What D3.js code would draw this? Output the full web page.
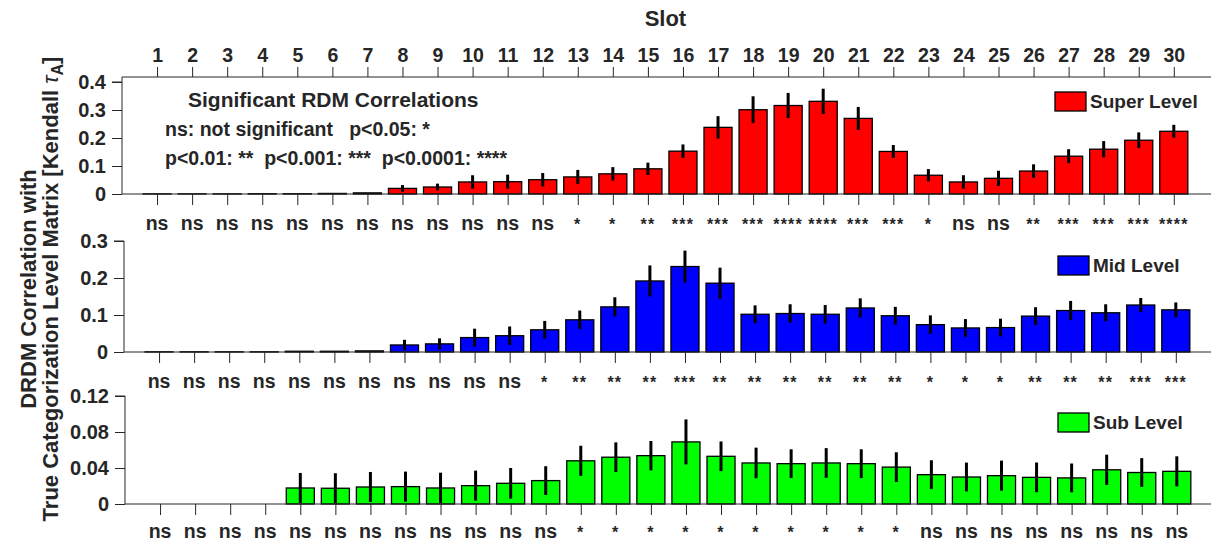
<!DOCTYPE html>
<html>
<head>
<meta charset="utf-8">
<script src="https://cdn.jsdelivr.net/npm/d3@7"></script>
<style>
  html, body { margin: 0; padding: 0; background: #fff; }
  svg { display: block; }
  text { font-family: "Liberation Sans", Arial, Helvetica, sans-serif; font-weight: bold; fill: #262626; white-space: pre; }
</style>
</head>
<body>
<svg id="chart" width="1211" height="548"></svg>
<script>
// ---------------- data ----------------
const slots = d3.range(1, 31);

const superVals = [0.0005, 0.0005, 0.0005, 0.001, 0.001, 0.002, 0.004, 0.020, 0.025, 0.043,
                   0.044, 0.051, 0.061, 0.072, 0.090, 0.153, 0.238, 0.301, 0.316, 0.331,
                   0.270, 0.152, 0.067, 0.043, 0.056, 0.082, 0.135, 0.160, 0.192, 0.224];
const superErr  = [0, 0, 0, 0, 0, 0, 0, 0.012, 0.012, 0.024,
                   0.025, 0.024, 0.025, 0.024, 0.022, 0.024, 0.040, 0.048, 0.045, 0.045,
                   0.041, 0.023, 0.022, 0.024, 0.027, 0.024, 0.025, 0.029, 0.028, 0.023];

const midVals = [0.0005, 0.0005, 0.0005, 0.0005, 0.002, 0.002, 0.003, 0.019, 0.022, 0.039,
                 0.044, 0.060, 0.087, 0.122, 0.192, 0.231, 0.186, 0.102, 0.104, 0.102,
                 0.119, 0.098, 0.074, 0.065, 0.066, 0.097, 0.112, 0.106, 0.127, 0.114];
const midErr  = [0, 0, 0, 0, 0, 0, 0, 0.014, 0.015, 0.024,
                 0.025, 0.024, 0.025, 0.026, 0.042, 0.043, 0.042, 0.024, 0.025, 0.025,
                 0.026, 0.024, 0.025, 0.024, 0.024, 0.024, 0.026, 0.023, 0.019, 0.020];

const subVals = [0, 0, 0, 0, 0.0178, 0.0175, 0.0189, 0.0193, 0.0178, 0.0204,
                 0.0230, 0.0260, 0.0480, 0.0520, 0.0537, 0.0690, 0.0530, 0.0456, 0.0448, 0.0456,
                 0.0448, 0.0410, 0.0326, 0.0300, 0.0315, 0.0296, 0.0290, 0.0380, 0.0350, 0.0363];
const subErr  = [0, 0, 0, 0, 0.0167, 0.0167, 0.0167, 0.0167, 0.0170, 0.0167,
                 0.0170, 0.0160, 0.0167, 0.0165, 0.0163, 0.0250, 0.0165, 0.0170, 0.0160, 0.0165,
                 0.0160, 0.0165, 0.0160, 0.0160, 0.0167, 0.0165, 0.0160, 0.0168, 0.0160, 0.0167];

const superSig = ["ns","ns","ns","ns","ns","ns","ns","ns","ns","ns","ns","ns",
                  "*","*","**","***","***","***","****","****","***","***","*","ns","ns",
                  "**","***","***","***","****"];
const midSig   = ["ns","ns","ns","ns","ns","ns","ns","ns","ns","ns","ns",
                  "*","**","**","**","***","**","**","**","**","**","**","*","*","*",
                  "**","**","**","***","***"];
const subSig   = ["ns","ns","ns","ns","ns","ns","ns","ns","ns","ns","ns","ns",
                  "*","*","*","*","*","*","*","*","*","*",
                  "ns","ns","ns","ns","ns","ns","ns","ns"];

const superTicks = [0, 0.1, 0.2, 0.3, 0.4];
const midTicks   = [0, 0.1, 0.2, 0.3];
const subTicks   = [0, 0.04, 0.08, 0.12];

const legendNames = ["Super Level", "Mid Level", "Sub Level"];
const barColors   = ["#ff0000", "#0000ff", "#00ff00"];

const xTitle = "Slot";
const yTitle1 = "DRDM Correlation with";
const noteLines = ["Significant RDM Correlations",
                   "ns: not significant   p<0.05: *",
                   "p<0.01: **  p<0.001: ***  p<0.0001: ****"];

// ---------------- layout ----------------
const svg = d3.select("#chart");
const ink = "#262626";

const panels = [
  { vals: superVals, err: superErr, sig: superSig, ticks: superTicks, fmt: d3.format(".1f"),
    ymax: 0.4, yZero: 194, yTop: 82, xLeft: 122, sigBase: 230, leg: [1055, 92], topAxis: true },
  { vals: midVals, err: midErr, sig: midSig, ticks: midTicks, fmt: d3.format(".1f"),
    ymax: 0.3, yZero: 352, yTop: 241, xLeft: 124, sigBase: 388, leg: [1058, 256], topAxis: false },
  { vals: subVals, err: subErr, sig: subSig, ticks: subTicks, fmt: d3.format(".2f"),
    ymax: 0.12, yZero: 504, yTop: 396, xLeft: 125, sigBase: 538, leg: [1058, 413], topAxis: false }
];

const step = 35.06;

panels.forEach((p, pi) => {
  const x = d3.scaleLinear().domain([0, 31]).range([p.xLeft, p.xLeft + 31 * step]);
  const y = d3.scaleLinear().domain([0, p.ymax]).range([p.yZero, p.yTop]);
  const bw = 0.8 * step;
  const g = svg.append("g");

  // bars
  g.selectAll("rect.bar").data(slots).join("rect")
    .attr("class", "bar")
    .attr("x", d => x(d) - bw / 2)
    .attr("width", bw)
    .attr("y", d => y(p.vals[d - 1]))
    .attr("height", d => y(0) - y(p.vals[d - 1]))
    .attr("fill", barColors[pi])
    .attr("stroke", "#000")
    .attr("stroke-width", 1.3);

  // error bars
  g.selectAll("line.err").data(slots.filter(d => p.err[d - 1] > 0)).join("line")
    .attr("class", "err")
    .attr("x1", d => x(d)).attr("x2", d => x(d))
    .attr("y1", d => y(p.vals[d - 1] + p.err[d - 1]))
    .attr("y2", d => y(p.vals[d - 1] - p.err[d - 1]))
    .attr("stroke", "#000")
    .attr("stroke-width", 3);

  // y axis
  const yAxis = d3.axisLeft(y).tickValues(p.ticks).tickSize(10).tickPadding(6)
    .tickFormat(d => d === 0 ? "0" : p.fmt(d));
  const ya = g.append("g").attr("transform", `translate(${p.xLeft},0)`).call(yAxis);
  ya.select(".domain").attr("stroke", ink).attr("d", `M-10,${p.yTop}H0V${p.yZero}`);
  ya.selectAll(".tick line").attr("stroke", ink);
  ya.selectAll(".tick text").attr("fill", ink).style("font-size", "20px");

  // bottom x axis (zero line with outward ticks, no labels)
  const xAxisB = d3.axisBottom(x).tickValues(slots).tickSize(11).tickFormat("");
  const xb = g.append("g").attr("transform", `translate(0,${p.yZero})`).call(xAxisB);
  xb.select(".domain").attr("stroke", ink).attr("d", `M${p.xLeft},0H1211`);
  xb.selectAll(".tick line").attr("stroke", ink);

  // top x axis with labels (first panel only)
  if (p.topAxis) {
    const yT = 77;
    const xAxisT = d3.axisTop(x).tickValues(slots).tickSize(10).tickPadding(5);
    const xt = g.append("g").attr("transform", `translate(0,${yT})`).call(xAxisT);
    xt.select(".domain").attr("stroke", ink).attr("d", `M${p.xLeft},0H1211`);
    xt.selectAll(".tick line").attr("stroke", ink);
    xt.selectAll(".tick text").attr("fill", ink).style("font-size", "19.5px");
    g.append("line").attr("x1", p.xLeft).attr("x2", p.xLeft)
      .attr("y1", yT).attr("y2", p.yTop).attr("stroke", ink);
    svg.append("text").attr("x", x(15.5)).attr("y", 26)
      .attr("text-anchor", "middle").style("font-size", "22px").text(xTitle);
  }

  // significance labels
  g.selectAll("text.sig").data(slots).join("text")
    .attr("class", "sig")
    .attr("x", d => x(d))
    .attr("y", p.sigBase)
    .attr("text-anchor", "middle")
    .style("font-size", d => p.sig[d - 1] === "ns" ? "19.5px" : "16px")
    .style("letter-spacing", d => p.sig[d - 1] === "ns" ? "0px" : "1.2px")
    .text(d => p.sig[d - 1]);

  // legend
  const [lx, ly] = p.leg;
  g.append("rect").attr("x", lx).attr("y", ly).attr("width", 31).attr("height", 19)
    .attr("fill", barColors[pi]).attr("stroke", "#000").attr("stroke-width", 1.3);
  g.append("text").attr("x", lx + 35).attr("y", ly + 16)
    .style("font-size", "19px").attr("fill", "#000").text(legendNames[pi]);
});

// annotation
svg.append("text").attr("x", 188).attr("y", 107).style("font-size", "21px").attr("fill", "#000").text(noteLines[0]);
svg.append("text").attr("x", 165).attr("y", 136).style("font-size", "19.5px").attr("fill", "#000").text(noteLines[1]);
svg.append("text").attr("x", 165).attr("y", 165).style("font-size", "19.5px").attr("fill", "#000").text(noteLines[2]);

// y title
const yt = svg.append("g").attr("transform", "translate(0,289) rotate(-90)");
yt.append("text").attr("x", 0).attr("y", 36).attr("text-anchor", "middle")
  .style("font-size", "22px").text(yTitle1);
const t2 = yt.append("text").attr("x", 0).attr("y", 58).attr("text-anchor", "middle")
  .style("font-size", "22px");
t2.append("tspan").text("True Categorization Level Matrix [Kendall ");
t2.append("tspan").style("font-style", "italic").style("font-weight", "normal").text("τ");
t2.append("tspan").attr("dy", 5).style("font-size", "16px").text("A");
t2.append("tspan").attr("dy", -5).text("]");
</script>
</body>
</html>
